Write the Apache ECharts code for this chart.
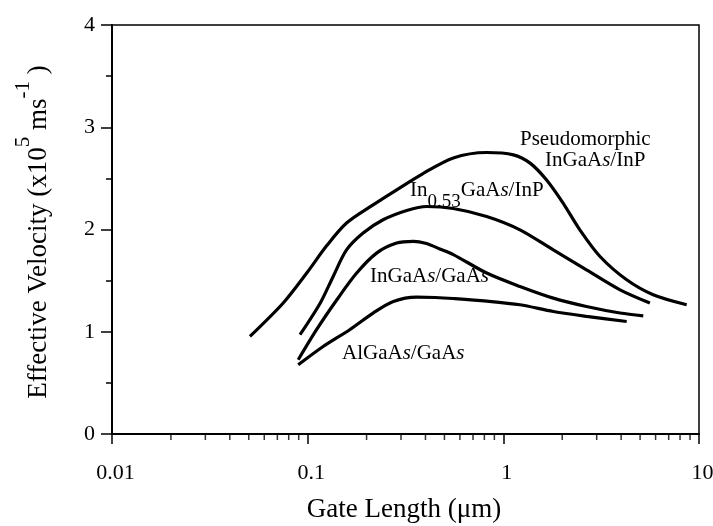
<!DOCTYPE html>
<html>
<head>
<meta charset="utf-8">
<script src="https://cdn.jsdelivr.net/npm/echarts@6/dist/echarts.min.js"></script>
<style>
  html, body { margin: 0; padding: 0; background: #fff; }
  #chart { width: 713px; height: 526px; }
</style>
</head>
<body>
<div id="chart"></div>
<script>
// gate length (um) / effective velocity (x10^5 m/s)
const pseudoX = [0.0507, 0.075, 0.0989, 0.125, 0.158, 0.216, 0.285, 0.383, 0.555, 0.822, 1.125, 1.37, 1.66, 2.02, 2.46, 3.12, 4.27, 5.83, 8.65];
const pseudoY = [0.954, 1.281, 1.574, 1.84, 2.063, 2.241, 2.388, 2.54, 2.70, 2.753, 2.730, 2.649, 2.486, 2.258, 1.997, 1.736, 1.508, 1.362, 1.264];

const inpX = [0.0914, 0.116, 0.135, 0.158, 0.192, 0.243, 0.321, 0.406, 0.555, 0.822, 1.216, 1.8, 2.66, 3.95, 5.61];
const inpY = [0.971, 1.281, 1.541, 1.80, 1.965, 2.095, 2.186, 2.225, 2.205, 2.127, 1.997, 1.80, 1.606, 1.41, 1.281];

const gaasX = [0.0895, 0.111, 0.141, 0.178, 0.225, 0.285, 0.347, 0.40, 0.474, 0.555, 0.822, 1.216, 1.8, 2.66, 3.95, 5.19];
const gaasY = [0.726, 1.02, 1.313, 1.574, 1.769, 1.867, 1.883, 1.865, 1.81, 1.755, 1.574, 1.443, 1.329, 1.247, 1.183, 1.156];

const algaasX = [0.0895, 0.12, 0.164, 0.216, 0.274, 0.36, 0.45, 0.555, 0.822, 1.216, 1.8, 2.66, 4.27];
const algaasY = [0.677, 0.856, 1.02, 1.183, 1.296, 1.339, 1.335, 1.325, 1.30, 1.264, 1.198, 1.15, 1.10];

const xTickLabels = ['0.01', '0.1', '1', '10'];
const xMinorTicks = [0.02, 0.03, 0.04, 0.05, 0.06, 0.07, 0.08, 0.09,
                     0.2, 0.3, 0.4, 0.5, 0.6, 0.7, 0.8, 0.9,
                     2, 3, 4, 5, 6, 7, 8, 9];

const font = 'Liberation Serif, Times New Roman, serif';

function zip(xs, ys) {
  return xs.map((x, i) => [x, ys[i]]);
}

function curve(name, xs, ys) {
  return {
    name: name,
    type: 'line',
    data: zip(xs, ys),
    smooth: 0.3,
    showSymbol: false,
    symbol: 'none',
    lineStyle: { color: '#000', width: 3.2 },
    z: 3
  };
}

const labelRich = {
  n: { fontFamily: font, fontSize: 21, color: '#000' },
  i: { fontFamily: font, fontSize: 21, color: '#000', fontStyle: 'italic' }
};

function label(x, y, text) {
  return {
    type: 'text', x: x, y: y,
    style: { text: text, rich: labelRich, align: 'left', verticalAlign: 'middle' }
  };
}

const chart = echarts.init(document.getElementById('chart'));

chart.setOption({
  animation: false,
  backgroundColor: '#fff',
  grid: {
    left: 112, right: 14, top: 25, bottom: 92,
    outerBoundsMode: 'none',
    containLabel: false,
    show: true, borderColor: '#000', borderWidth: 1.5
  },
  xAxis: {
    type: 'log',
    logBase: 10,
    min: 0.01,
    max: 10,
    interval: 1,
    axisLine: { lineStyle: { color: '#000', width: 2 } },
    axisTick: { inside: false, length: 10, lineStyle: { color: '#000', width: 1.5 } },
    axisLabel: {
      margin: 28,
      padding: [0, 0, 0, 7],
      color: '#000',
      fontFamily: font,
      fontSize: 22,
      formatter: (v, i) => xTickLabels[i]
    },
    splitLine: { show: false }
  },
  yAxis: {
    type: 'value',
    min: 0,
    max: 4,
    interval: 1,
    axisLine: { show: true, lineStyle: { color: '#000', width: 2 } },
    axisTick: { show: true, inside: false, length: 11, lineStyle: { color: '#000', width: 1.5 } },
    minorTick: { show: true, splitNumber: 2, length: 6, lineStyle: { color: '#000', width: 1.5 } },
    axisLabel: { margin: 17, color: '#000', fontFamily: font, fontSize: 22 },
    splitLine: { show: false }
  },
  series: [
    curve('Pseudomorphic InGaAs/InP', pseudoX, pseudoY),
    curve('In0.53GaAs/InP', inpX, inpY),
    curve('InGaAs/GaAs', gaasX, gaasY),
    curve('AlGaAs/GaAs', algaasX, algaasY),
    {
      // log minor ticks below the x axis
      type: 'scatter',
      data: xMinorTicks.map(v => [v, 0]),
      symbol: 'rect',
      symbolSize: [1.5, 5],
      symbolOffset: [0, 3.5],
      itemStyle: { color: '#000' },
      clip: false,
      silent: true,
      z: 4
    }
  ],
  graphic: [
    label(520, 139, '{n|Pseudomorphic}'),
    label(545, 160, '{n|InGaA}{i|s}{n|/InP}'),
    {
      type: 'text', x: 410, y: 180,
      style: {
        text: '{b|In}{sub|0.53}{b|GaA}{bi|s}{b|/InP}',
        align: 'left', verticalAlign: 'top',
        rich: {
          b: { fontFamily: font, fontSize: 21, color: '#000', lineHeight: 22, verticalAlign: 'top' },
          bi: { fontFamily: font, fontSize: 21, color: '#000', fontStyle: 'italic', lineHeight: 22, verticalAlign: 'top' },
          sub: { fontFamily: font, fontSize: 19, color: '#000', lineHeight: 22, verticalAlign: 'top', padding: [13, 0, 0, 0] }
        }
      }
    },
    label(370, 276, '{n|InGaA}{i|s}{n|/GaA}{i|s}'),
    label(342, 353, '{n|AlGaA}{i|s}{n|/GaA}{i|s}'),
    {
      type: 'text', x: 404, y: 510,
      style: {
        text: 'Gate Length (\u03bcm)',
        fontFamily: font, fontSize: 27, fill: '#000',
        align: 'center', verticalAlign: 'middle'
      }
    },
    {
      type: 'text', x: 27, y: 232, rotation: Math.PI / 2,
      style: {
        text: '{n|Effective Velocity (x10}{sup|5}{n| ms}{sup|-1}{n| )}',
        align: 'center', verticalAlign: 'middle',
        rich: {
          n: { fontFamily: font, fontSize: 27, color: '#000', lineHeight: 28, verticalAlign: 'top', padding: [12, 0, 0, 0] },
          sup: { fontFamily: font, fontSize: 21, color: '#000', lineHeight: 28, verticalAlign: 'top' }
        }
      }
    }
  ]
});
</script>
</body>
</html>
